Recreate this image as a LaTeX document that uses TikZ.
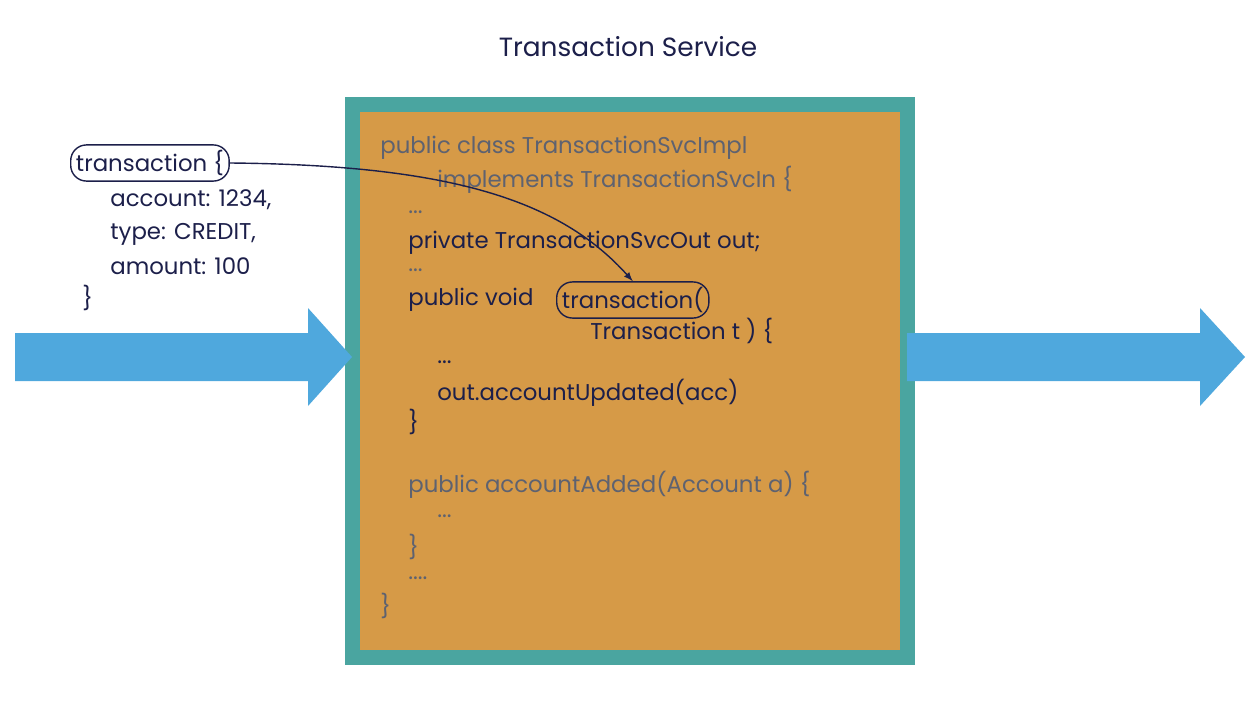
\documentclass[tikz,border=0pt]{standalone}
\usepackage{fontspec}
\setmainfont{Poppins}
\usetikzlibrary{positioning}
\definecolor{navy}{HTML}{1C1F4A}
\definecolor{codegrey}{HTML}{5E6270}
\definecolor{teal}{HTML}{4AA5A0}
\definecolor{orange}{HTML}{D69A47}
\definecolor{flow}{HTML}{4FA8DD}
\begin{document}
\begin{tikzpicture}[
        x=0.02cm, y=-0.02cm,
        font=\fontsize{13}{15}\selectfont
    ]
    \tikzset{
        code/.style = {anchor=west, inner sep=0pt, text=codegrey},
        codeb/.style = {anchor=west, inner sep=0pt, text=navy},
        oval/.style = {draw=navy, thick, rounded corners=9pt, inner xsep=3pt, inner ysep=3pt, text=navy, anchor=west},
        flowarrow/.style = {fill=flow, draw=none},
    }
    \useasboundingbox (0,0) rectangle (1256,706);
    \node[text=navy, font=\fontsize{15}{18}\selectfont] (title) at (628,47) {Transaction Service};
    % service box
    \fill[teal] (345,97) rectangle (915,665);
    \fill[orange] (360,112) rectangle (900,650);
    % flow arrows
    \fill[flowarrow] (15,333) -- (308,333) -- (308,308) -- (352,357) -- (308,406) -- (308,381) -- (15,381) -- cycle;
    \fill[flowarrow] (907,333) -- (1200,333) -- (1200,308) -- (1245,357) -- (1200,406) -- (1200,381) -- (907,381) -- cycle;
    % incoming message
    \node[oval] (msg) at (70,163) {transaction \{};
    \node[codeb] (acc) at (110,200) {account: 1234,};
    \node[codeb] (type) at (110,234) {type: CREDIT,};
    \node[codeb] (amt) at (110,266) {amount: 100};
    \node[codeb] (close) at (82,298) {\}};
    % code
    \node[code] (l1) at (380,148) {public class TransactionSvcImpl};
    \node[code] (l2) at (437,180) {implements TransactionSvcIn \{};
    \node[code] (l3) at (408,212) {...};
    \node[codeb] (l4) at (408,243) {private TransactionSvcOut out;};
    \node[code] (l5) at (408,270) {...};
    \node[codeb] (l6) at (408,300) {public void};
    \node[oval] (handler) at (556,300) {transaction(};
    \node[codeb] (l7) at (590,331) {Transaction t ) \{};
    \node[codeb] (l8) at (437,362) {...};
    \node[codeb] (l9) at (437,393) {out.accountUpdated(acc)};
    \node[codeb] (l10) at (408,422) {\}};
    \node[code] (l11) at (408,485) {public accountAdded(Account a) \{};
    \node[code] (l12) at (437,516) {...};
    \node[code] (l13) at (408,547) {\}};
    \node[code] (l14) at (408,578) {....};
    \node[code] (l15) at (380,606) {\}};
    %
    \draw[navy, thick, -latex] (msg.east) .. controls (450,165) and (560,200) .. (handler.north);
\end{tikzpicture}
\end{document}
